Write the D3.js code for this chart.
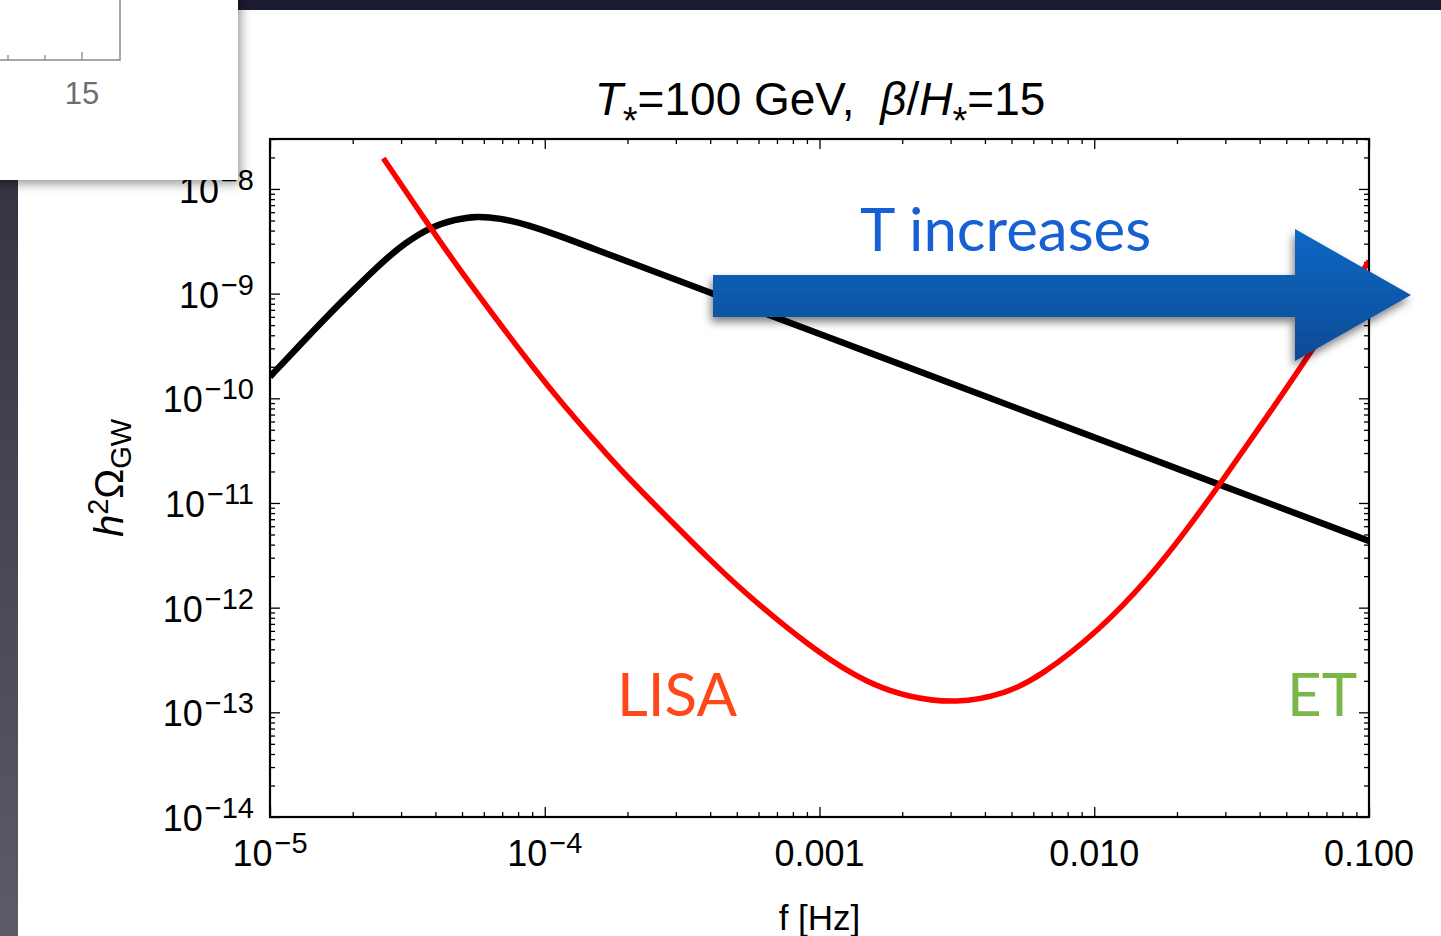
<!DOCTYPE html>
<html>
<head>
<meta charset="utf-8">
<script src="https://cdn.jsdelivr.net/npm/d3@7"></script>
<style>
  html, body { margin: 0; padding: 0; background: #ffffff; }
  svg { display: block; }
  text { white-space: pre; }
</style>
</head>
<body>
<svg id="chart" width="1441" height="936"></svg>
<script>
// ---------------- data ----------------
const xMajor = [1e-5, 1e-4, 1e-3, 1e-2, 1e-1];
const xTickLabels = ["10^−5", "10^−4", "0.001", "0.010", "0.100"];
const yMajor = [1e-14, 1e-13, 1e-12, 1e-11, 1e-10, 1e-9, 1e-8];
const yTickLabels = ["10^−14", "10^−13", "10^−12", "10^−11", "10^−10", "10^−9", "10^−8"];
const minorMultipliers = [2, 3, 4, 5, 6, 7, 8, 9];

// phase-transition GW spectrum (black)
const fSignal = [1e-5, 1.285e-5, 1.608e-5, 2.039e-5, 2.585e-5, 3.099e-5, 3.823e-5, 4.713e-5,
                 5.653e-5, 6.87e-5, 8.60e-5, 1.136e-4, 1.498e-4, 2.043e-4, 3.021e-4, 1.0e-3,
                 4.54e-3, 1.049e-2, 2.869e-2, 0.1];
const omegaSignal = [1.609e-10, 3.233e-10, 6.03e-10, 1.12e-9, 2.05e-9, 3.035e-9, 4.31e-9, 5.11e-9,
                     5.52e-9, 5.25e-9, 4.58e-9, 3.556e-9, 2.700e-9, 1.985e-9, 1.351e-9, 4.12e-10,
                     9.25e-11, 4.035e-11, 1.493e-11, 4.335e-12];

// LISA sensitivity curve (red)
const fLisa = [2.585e-5, 3.823e-5, 4.914e-5, 6.50e-5, 9.35e-5, 1.136e-4, 1.728e-4, 2.222e-4,
               2.937e-4, 3.885e-4, 5.136e-4, 6.79e-4, 8.98e-4, 1.187e-3, 1.570e-3, 2.076e-3,
               3.157e-3, 4.80e-3, 6.35e-3, 1.049e-2, 1.595e-2, 2.170e-2, 2.869e-2, 4.243e-2,
               6.10e-2, 0.1];
const omegaLisa = [1.965e-8, 4.31e-9, 1.68e-9, 6.20e-10, 1.78e-10, 9.43e-11, 2.664e-11, 1.331e-11,
                   6.40e-12, 3.069e-12, 1.531e-12, 8.20e-13, 4.566e-13, 2.729e-13, 1.825e-13, 1.411e-13,
                   1.20e-13, 1.521e-13, 2.191e-13, 6.12e-13, 1.964e-12, 5.52e-12, 1.519e-11, 6.63e-11,
                   2.652e-10, 2.051e-9];

const titleParts = { T: "T", star: "*", rest: "=100 GeV,  ", beta: "β", slash: "/", H: "H", end: "=15" };
const xAxisTitle = "f [Hz]";
const arrowText = "T increases";
const lisaText = "LISA";
const etText = "ET";
const insetLabel = "15";

// ---------------- layout ----------------
const svg = d3.select("#chart");
const L = 270, R = 1369, T = 139, B = 817;
const x = d3.scaleLog().domain([1e-5, 0.1]).range([L, R]);
const y = d3.scaleLog().domain([1e-14, 3.0e-8]).range([B, T]);

const AX_FONT = "'Liberation Sans', Arial, Helvetica, sans-serif";
const SLIDE_FONT = "Lato, 'Open Sans', sans-serif";

const defs = svg.append("defs");
defs.append("clipPath").attr("id", "plotclip")
  .append("rect").attr("x", L).attr("y", T).attr("width", R - L).attr("height", B - T);

const grad = defs.append("linearGradient").attr("id", "arrowGrad")
  .attr("x1", 0).attr("y1", 0).attr("x2", 0).attr("y2", 1);
grad.append("stop").attr("offset", "0%").attr("stop-color", "#0a68c4");
grad.append("stop").attr("offset", "100%").attr("stop-color", "#074a95");

const sh = defs.append("filter").attr("id", "arrowShadow")
  .attr("x", "-10%").attr("y", "-30%").attr("width", "130%").attr("height", "170%");
sh.append("feDropShadow").attr("dx", -2).attr("dy", 5).attr("stdDeviation", 4)
  .attr("flood-color", "#000").attr("flood-opacity", 0.5);

const sh2 = defs.append("filter").attr("id", "boxShadow")
  .attr("x", "-20%").attr("y", "-20%").attr("width", "150%").attr("height", "150%");
sh2.append("feDropShadow").attr("dx", 2).attr("dy", 3).attr("stdDeviation", 6)
  .attr("flood-color", "#000").attr("flood-opacity", 0.45);

const leftGrad = defs.append("linearGradient").attr("id", "leftGrad")
  .attr("x1", 0).attr("y1", 0).attr("x2", 0).attr("y2", 1);
leftGrad.append("stop").attr("offset", "0%").attr("stop-color", "#2a2a3a");
leftGrad.append("stop").attr("offset", "100%").attr("stop-color", "#5c5c68");

// slide background pieces
svg.append("rect").attr("x", 0).attr("y", 0).attr("width", 1441).attr("height", 936).attr("fill", "#ffffff");
svg.append("rect").attr("x", 0).attr("y", 0).attr("width", 1441).attr("height", 10).attr("fill", "#1c1c30");
svg.append("rect").attr("x", 0).attr("y", 0).attr("width", 18).attr("height", 936).attr("fill", "url(#leftGrad)");

// ---------------- ticks (inside, all four sides) ----------------
const minorVals = (domain) => {
  const out = [];
  const lo = Math.floor(Math.log10(domain[0])), hi = Math.ceil(Math.log10(domain[1]));
  for (let e = lo; e < hi; e++) minorMultipliers.forEach(m => {
    const v = m * Math.pow(10, e);
    if (v >= domain[0] * 0.999 && v <= domain[1] * 1.001) out.push(v);
  });
  return out;
};
const xMinor = minorVals(x.domain());
const yMinor = minorVals(y.domain());

function tickGroup(axisGen, transform) {
  const g = svg.append("g").attr("transform", transform).call(axisGen);
  g.select(".domain").remove();
  g.selectAll("text").remove();
  g.selectAll("line").attr("stroke", "#000").attr("stroke-width", 1.3);
  return g;
}
const MAJ = 10, MIN = 5;
tickGroup(d3.axisBottom(x).tickValues(xMajor).tickSize(-MAJ).tickFormat(""), `translate(0,${B})`);
tickGroup(d3.axisBottom(x).tickValues(xMinor).tickSize(-MIN).tickFormat(""), `translate(0,${B})`);
tickGroup(d3.axisTop(x).tickValues(xMajor).tickSize(-MAJ).tickFormat(""), `translate(0,${T})`);
tickGroup(d3.axisTop(x).tickValues(xMinor).tickSize(-MIN).tickFormat(""), `translate(0,${T})`);
tickGroup(d3.axisLeft(y).tickValues(yMajor).tickSize(-MAJ).tickFormat(""), `translate(${L},0)`);
tickGroup(d3.axisLeft(y).tickValues(yMinor).tickSize(-MIN).tickFormat(""), `translate(${L},0)`);
tickGroup(d3.axisRight(y).tickValues(yMajor).tickSize(-MAJ).tickFormat(""), `translate(${R},0)`);
tickGroup(d3.axisRight(y).tickValues(yMinor).tickSize(-MIN).tickFormat(""), `translate(${R},0)`);

// ---------------- curves ----------------
const line = d3.line().x(d => x(d[0])).y(d => y(d[1])).curve(d3.curveBasis);
const plot = svg.append("g").attr("clip-path", "url(#plotclip)");
plot.append("path").datum(d3.zip(fSignal, omegaSignal)).attr("d", line)
  .attr("fill", "none").attr("stroke", "#000").attr("stroke-width", 6.5).attr("stroke-linejoin", "round");
plot.append("path").datum(d3.zip(fLisa, omegaLisa)).attr("d", line)
  .attr("fill", "none").attr("stroke", "#ff0000").attr("stroke-width", 5.5).attr("stroke-linejoin", "round");

// frame
svg.append("rect").attr("x", L).attr("y", T).attr("width", R - L).attr("height", B - T)
  .attr("fill", "none").attr("stroke", "#000").attr("stroke-width", 2.2);

// ---------------- tick labels ----------------
function powLabel(sel, label, smallSize, rise) {
  const parts = label.split("^");
  sel.append("tspan").text(parts[0]);
  if (parts.length > 1) sel.append("tspan").attr("font-size", smallSize).attr("dx", 2).attr("dy", -rise).text(parts[1]);
}
xMajor.forEach((v, i) => {
  const t = svg.append("text").attr("x", x(v)).attr("y", 866)
    .attr("text-anchor", "middle").attr("font-family", AX_FONT).attr("font-size", 36).attr("fill", "#000");
  powLabel(t, xTickLabels[i], 29, 13);
});
yMajor.forEach((v, i) => {
  const t = svg.append("text").attr("x", 254).attr("y", y(v) + 14)
    .attr("text-anchor", "end").attr("font-family", AX_FONT).attr("font-size", 36).attr("fill", "#000");
  powLabel(t, yTickLabels[i], 29, 13);
});

// axis titles
svg.append("text").attr("x", (L + R) / 2).attr("y", 930).attr("text-anchor", "middle")
  .attr("font-family", AX_FONT).attr("font-size", 35).attr("fill", "#000").text(xAxisTitle);

const yl = svg.append("text").attr("transform", `translate(123,${(T + B) / 2}) rotate(-90)`)
  .attr("text-anchor", "middle").attr("font-family", AX_FONT).attr("font-size", 40).attr("fill", "#000");
yl.append("tspan").attr("font-style", "italic").text("h");
yl.append("tspan").attr("font-size", 29).attr("dy", -15).text("2");
yl.append("tspan").attr("dy", 15).text("Ω");
yl.append("tspan").attr("font-size", 29).attr("dy", 8).text("GW");

// title
const tt = svg.append("text").attr("x", 820).attr("y", 115).attr("text-anchor", "middle")
  .attr("font-family", AX_FONT).attr("font-size", 46).attr("fill", "#000");
tt.append("tspan").attr("font-style", "italic").text(titleParts.T);
tt.append("tspan").attr("font-size", 38).attr("dy", 19).text(titleParts.star);
tt.append("tspan").attr("dy", -19).text(titleParts.rest);
tt.append("tspan").attr("font-style", "italic").text(titleParts.beta);
tt.append("tspan").text(titleParts.slash);
tt.append("tspan").attr("font-style", "italic").text(titleParts.H);
tt.append("tspan").attr("font-size", 38).attr("dy", 19).text(titleParts.star);
tt.append("tspan").attr("dy", -19).text(titleParts.end);

// ---------------- slide annotations ----------------
svg.append("text").attr("x", 617).attr("y", 716).attr("font-family", SLIDE_FONT)
  .attr("font-size", 60).attr("fill", "#ff4719").text(lisaText);
svg.append("text").attr("x", 1287).attr("y", 716).attr("font-family", SLIDE_FONT)
  .attr("font-size", 60).attr("fill", "#7ab648").text(etText);

// arrow
const arrowPts = [[713, 275], [1295, 275], [1295, 229], [1411, 295], [1295, 361], [1295, 317], [713, 317]];
svg.append("path").attr("d", d3.line()(arrowPts) + "Z")
  .attr("fill", "url(#arrowGrad)").attr("filter", "url(#arrowShadow)");

svg.append("text").attr("x", 860).attr("y", 251).attr("font-family", SLIDE_FONT)
  .attr("font-size", 60).attr("fill", "#1660d4").text(arrowText);

// inset popup (top-left)
const inset = svg.append("g");
inset.append("rect").attr("x", -20).attr("y", -20).attr("width", 258).attr("height", 200)
  .attr("fill", "#fff").attr("filter", "url(#boxShadow)");
inset.append("path").attr("d", "M0,60 H120 V0").attr("fill", "none").attr("stroke", "#8a8a8a").attr("stroke-width", 1.5);
[[8, 5], [45, 5], [82, 8]].forEach(([tx, h]) => {
  inset.append("line").attr("x1", tx).attr("x2", tx).attr("y1", 60).attr("y2", 60 - h)
    .attr("stroke", "#8a8a8a").attr("stroke-width", 1.3);
});
inset.append("text").attr("x", 82).attr("y", 104).attr("text-anchor", "middle")
  .attr("font-family", AX_FONT).attr("font-size", 31).attr("fill", "#6e6e6e").text(insetLabel);
</script>
</body>
</html>
